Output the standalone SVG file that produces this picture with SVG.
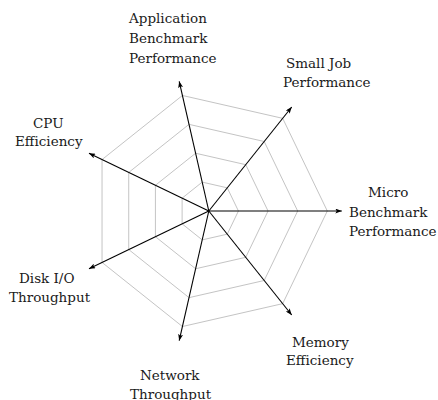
<svg xmlns="http://www.w3.org/2000/svg" width="438" height="400" viewBox="0 0 438 400">
<style>
.ring{fill:none;stroke:#c4c4c4;stroke-width:1}
.axis{stroke:#000;stroke-width:1.1;fill:none;marker-end:url(#ah)}
.lbl{font-family:"DejaVu Serif","Liberation Serif",serif;font-size:13.5px;fill:#1a1a1a}
</style>
<defs>
<marker id="ah" markerUnits="userSpaceOnUse" markerWidth="7" markerHeight="5" refX="6.5" refY="2.5" orient="auto">
<path d="M0,0 L6.5,2.5 L0,5 L1.5,2.5 Z" fill="#000"/>
</marker>
</defs>
<g id="grid">
<polygon class="ring" points="327.3,211 282.7,118.35 182.43,95.47 102.04,159.59 102.04,262.41 182.43,326.53 282.7,303.65"/>
<polygon class="ring" points="297.68,211 264.21,141.51 189.02,124.35 128.73,172.44 128.73,249.56 189.02,297.65 264.21,280.49"/>
<polygon class="ring" points="268.05,211 245.74,164.68 195.62,153.24 155.42,185.29 155.42,236.71 195.62,268.76 245.74,257.32"/>
<polygon class="ring" points="238.43,211 227.27,187.84 202.21,182.12 182.11,198.15 182.11,223.85 202.21,239.88 227.27,234.16"/>
</g>
<g id="connectors">
<line class="axis" x1="208.8" y1="211" x2="341.8" y2="211"/>
<line class="axis" x1="208.8" y1="211" x2="291.72" y2="107.02"/>
<line class="axis" x1="208.8" y1="211" x2="179.2" y2="81.33"/>
<line class="axis" x1="208.8" y1="211" x2="88.97" y2="153.29"/>
<line class="axis" x1="208.8" y1="211" x2="88.97" y2="268.71"/>
<line class="axis" x1="208.8" y1="211" x2="179.2" y2="340.67"/>
<line class="axis" x1="208.8" y1="211" x2="291.72" y2="314.98"/>
</g>
<g id="app-benchmark">
<text class="lbl" x="129" y="23">Application</text>
<text class="lbl" x="129" y="43">Benchmark</text>
<text class="lbl" x="129" y="62.5">Performance</text>
</g>
<g id="small-job">
<text class="lbl" x="286" y="68">Small Job</text>
<text class="lbl" x="283" y="87">Performance</text>
</g>
<g id="micro-benchmark">
<text class="lbl" x="368" y="197">Micro</text>
<text class="lbl" x="349" y="216.5">Benchmark</text>
<text class="lbl" x="349" y="236">Performance</text>
</g>
<g id="memory">
<text class="lbl" x="292" y="347">Memory</text>
<text class="lbl" x="286" y="365">Efficiency</text>
</g>
<g id="network">
<text class="lbl" x="140" y="380">Network</text>
<text class="lbl" x="130" y="398.5">Throughput</text>
</g>
<g id="disk-io">
<text class="lbl" x="19" y="283">Disk I/O</text>
<text class="lbl" x="9" y="301.5">Throughput</text>
</g>
<g id="cpu">
<text class="lbl" x="33" y="127.5">CPU</text>
<text class="lbl" x="15" y="146">Efficiency</text>
</g>
</svg>
